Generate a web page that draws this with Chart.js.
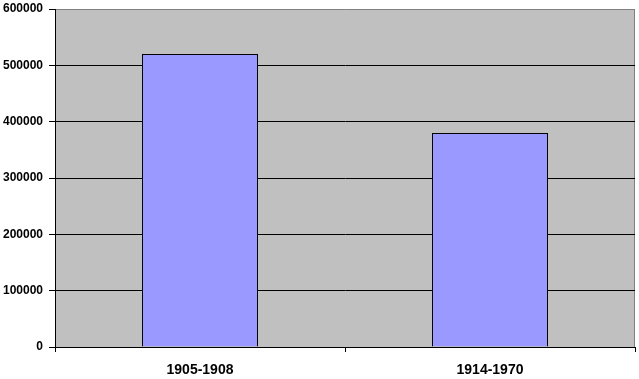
<!DOCTYPE html>
<html>
<head>
<meta charset="utf-8">
<script src="https://cdn.jsdelivr.net/npm/chart.js@4"></script>
<style>
html,body{margin:0;padding:0;background:#fff;}
#wrap{width:639px;height:379px;position:relative;}
</style>
</head>
<body>
<div id="wrap"><canvas id="c" width="639" height="379"></canvas></div>
<script>
const categories = ["1905-1908", "1914-1970"];
const values = [520000, 380000];
const yMin = 0, yMax = 600000, yStep = 100000;

const plotBg = {
  id: 'plotBg',
  beforeDraw(chart) {
    const {ctx, chartArea: a} = chart;
    ctx.save();
    ctx.fillStyle = '#C0C0C0';
    ctx.fillRect(a.left, a.top, a.right - a.left, a.bottom - a.top);
    ctx.strokeStyle = '#808080';
    ctx.lineWidth = 1;
    ctx.beginPath();
    ctx.moveTo(Math.round(a.right) - 0.5, a.top);
    ctx.lineTo(Math.round(a.right) - 0.5, a.bottom);
    ctx.stroke();
    ctx.restore();
  }
};

const family = '"Liberation Sans", Arial, sans-serif';

new Chart(document.getElementById('c'), {
  type: 'bar',
  data: {
    labels: categories,
    datasets: [{
      data: values,
      backgroundColor: '#9999FF',
      borderColor: '#000000',
      borderWidth: 1,
      barPercentage: 0.4,
      categoryPercentage: 1.0
    }]
  },
  options: {
    responsive: false,
    animation: false,
    layout: {padding: {top: 9, right: 4, left: 0, bottom: 0}},
    plugins: {legend: {display: false}, tooltip: {enabled: false}},
    scales: {
      x: {
        offset: true,
        grid: {drawOnChartArea: false, drawTicks: true, tickLength: 5, color: '#000', offset: true},
        border: {display: true, color: '#000'},
        ticks: {color: '#000', font: {family, size: 14, weight: 'bold'}, padding: 10, maxRotation: 0},
        afterFit(s) { s.height = 32; s.paddingLeft = 0; s.paddingRight = 0; }
      },
      y: {
        min: yMin, max: yMax,
        grid: {
          color: (c) => (c.tick && c.tick.value === yMax) ? '#808080' : '#000000',
          tickColor: '#000',
          tickLength: 6
        },
        border: {display: true, color: '#000'},
        ticks: {stepSize: yStep, color: '#000', font: {family, size: 12, weight: 'bold'}, padding: 6,
          callback: (v) => String(v)},
        afterFit(s) { s.width = 55; s.paddingTop = 0; s.paddingBottom = 0; }
      }
    }
  },
  plugins: [plotBg]
});
</script>
</body>
</html>
